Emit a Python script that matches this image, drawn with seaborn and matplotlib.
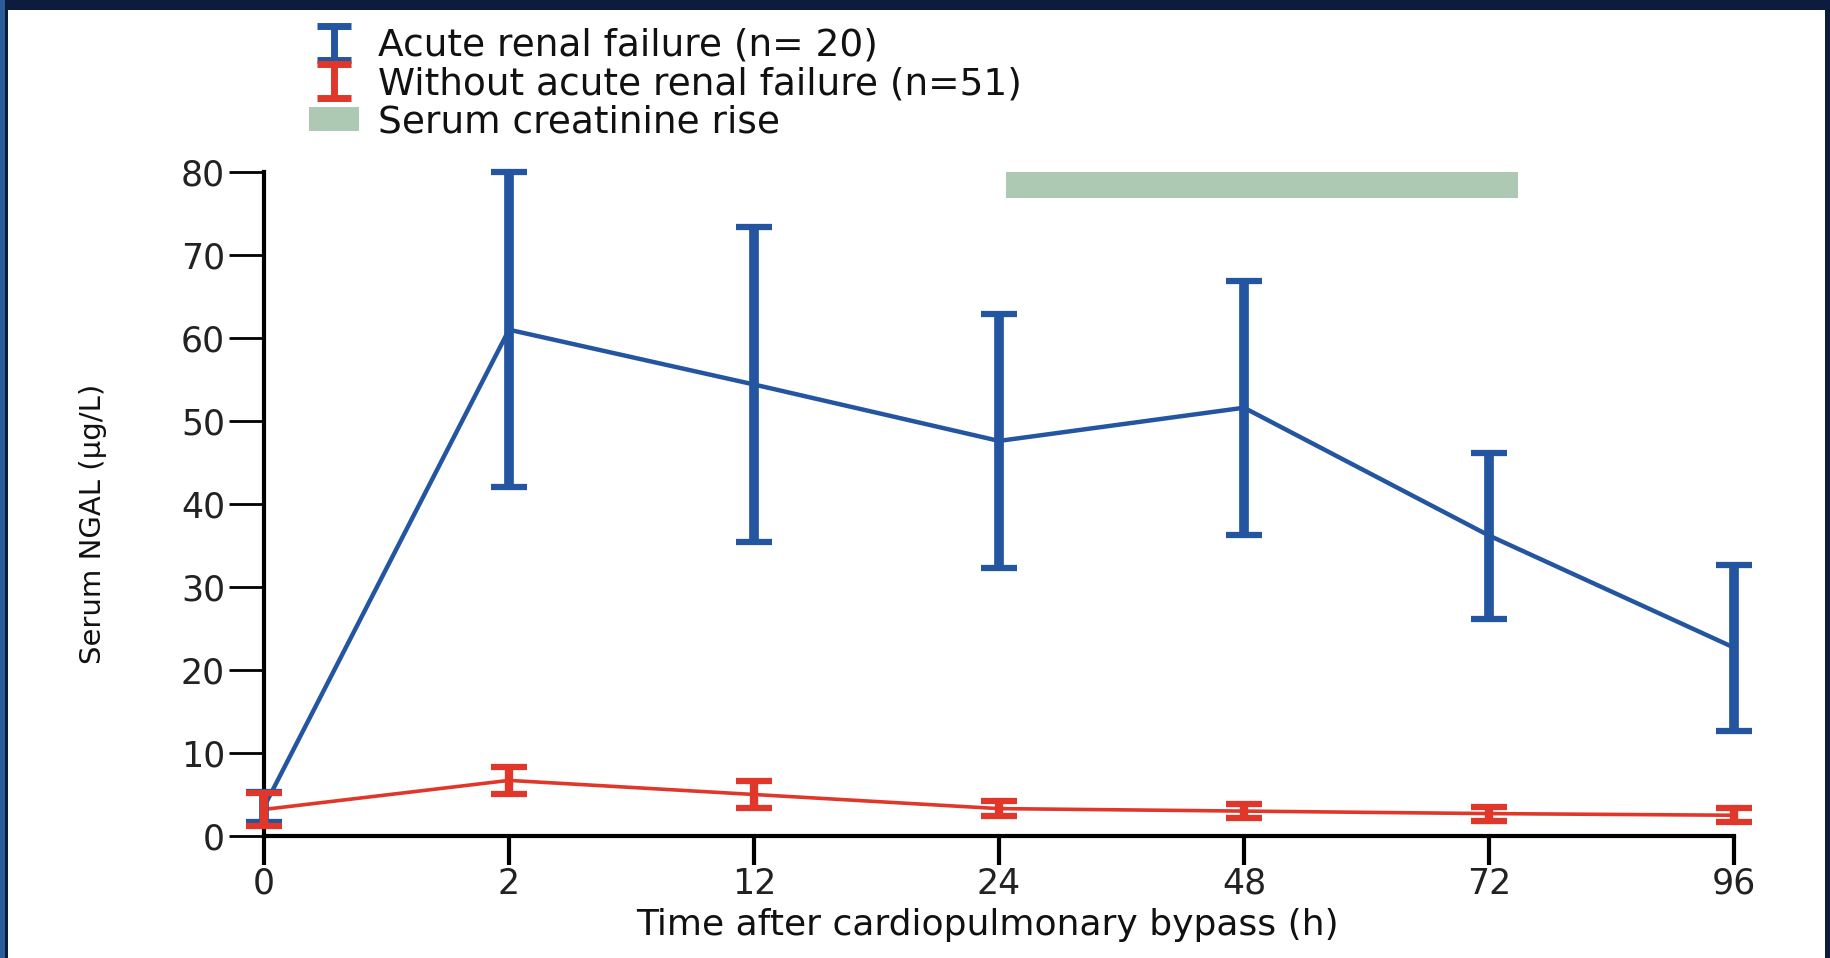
import numpy as np
import matplotlib
matplotlib.use("Agg")
import matplotlib.pyplot as plt
import seaborn as sns
from matplotlib.path import Path
from matplotlib.lines import Line2D
from matplotlib.patches import Patch, Rectangle

# ---------------- data ----------------
time_labels = ["0", "2", "12", "24", "48", "72", "96"]
arf_mean = [3.5, 61.0, 54.4, 47.6, 51.6, 36.2, 22.7]
arf_err = [1.8, 19.0, 19.0, 15.3, 15.3, 10.0, 10.0]
non_mean = [3.2, 6.7, 5.0, 3.3, 3.0, 2.7, 2.5]
non_err = [2.0, 1.6, 1.6, 0.9, 0.85, 0.85, 0.85]
creat_start = 3.03   # position along the category axis
creat_end = 5.12
creat_low = 76.9
creat_high = 80.0

legend_labels = ["Acute renal failure (n= 20)",
                 "Without acute renal failure (n=51)",
                 "Serum creatinine rise"]

BLUE = "#2455a0"
RED = "#e0372a"
GREEN = "#adc9b3"
NAVY = "#0c1b3e"

sns.set_theme(style="white")
plt.rcParams['font.family'] = ['DejaVu Sans']

fig = plt.figure(figsize=(18.31, 9.58), dpi=100)
fig.patch.set_facecolor(NAVY)
# white panel inside the dark frame
fig.patches.append(Rectangle((8/1831, 0), (1825-8)/1831, 948/958,
                             transform=fig.transFigure, facecolor="white",
                             edgecolor="none", zorder=-2))
fig.patches.append(Rectangle((0, 0), 5/1831, 1,
                             transform=fig.transFigure, facecolor="#2d5c9a",
                             edgecolor="none", zorder=-2))

ax = fig.add_axes([264/1831, 1-836/958, 1470/1831, 664/958])
ax.set_zorder(2)
ax.set_facecolor("none")

x = np.arange(len(time_labels))

# creatinine band
ax.fill_between([creat_start, creat_end], creat_low, creat_high,
                color=GREEN, linewidth=0, zorder=1)

# mean lines via seaborn
sns.lineplot(x=x, y=arf_mean, ax=ax, color=BLUE, linewidth=3.2, zorder=3)
sns.lineplot(x=x, y=non_mean, ax=ax, color=RED, linewidth=2.6, zorder=3)

# error bars
eb1 = ax.errorbar(x, arf_mean, yerr=arf_err, fmt="none", ecolor=BLUE,
                  elinewidth=7, capsize=13, capthick=4.5, zorder=4)
eb2 = ax.errorbar(x, non_mean, yerr=non_err, fmt="none", ecolor=RED,
                  elinewidth=6, capsize=13, capthick=4.5, zorder=4)
for eb in (eb1, eb2):
    for art in eb.get_children():
        art.set_clip_on(False)

ax.set_xlim(0, len(time_labels) - 1)
ax.set_ylim(0, 80)
ax.set_xticks(x)
ax.set_xticklabels(time_labels)
ax.set_yticks(np.arange(0, 81, 10))

for s in ("top", "right"):
    ax.spines[s].set_visible(False)
for s in ("left", "bottom"):
    ax.spines[s].set_linewidth(3)
    ax.spines[s].set_color("black")

ax.tick_params(axis="y", direction="out", length=25, width=2, color="black",
               labelsize=25, pad=3, left=True)
ax.tick_params(axis="x", direction="out", length=21, width=3, color="black",
               labelsize=25, pad=1, bottom=True)
for lab in ax.get_xticklabels() + ax.get_yticklabels():
    lab.set_color("#222222")

ax.set_xlabel("Time after cardiopulmonary bypass (h)", fontsize=26,
              color="#111111")
ax.xaxis.set_label_coords(0.492, -0.108)
ax.set_ylabel("Serum NGAL (µg/L)", fontsize=21, color="#111111")
ax.yaxis.set_label_coords(-0.107, 0.47)

# legend with I-shaped error-bar glyphs
ipath = Path([(-1, 1), (1, 1), (0, 1), (0, -1), (-1, -1), (1, -1)],
             [Path.MOVETO, Path.LINETO, Path.MOVETO, Path.LINETO,
              Path.MOVETO, Path.LINETO])
h1 = Line2D([], [], linestyle="none", marker=ipath, markersize=25,
            markeredgewidth=5, markeredgecolor=BLUE, markerfacecolor="none")
h2 = Line2D([], [], linestyle="none", marker=ipath, markersize=25,
            markeredgewidth=5, markeredgecolor=RED, markerfacecolor="none")
h3 = Patch(facecolor=GREEN, edgecolor="none")
fig.legend([h1, h2, h3], legend_labels, loc="upper left",
           bbox_to_anchor=(290/1831, 1-9/958), frameon=False,
           fontsize=27, handlelength=1.35, handleheight=0.6,
           handletextpad=0.5, labelspacing=0.06, borderpad=0,
           labelcolor="#111111")

fig.savefig("out.png", dpi=100, facecolor=fig.get_facecolor())
